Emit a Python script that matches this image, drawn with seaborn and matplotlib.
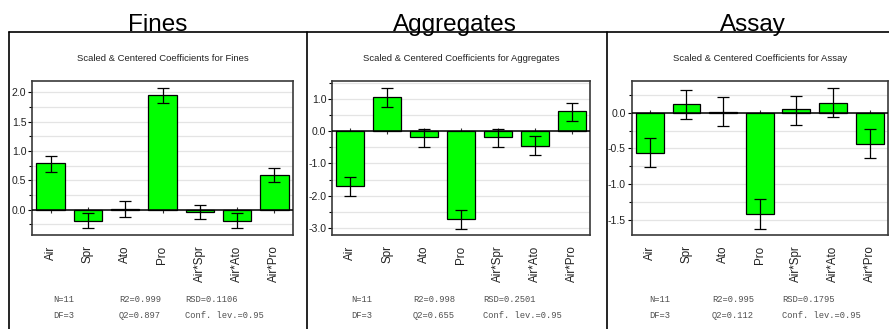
import matplotlib
matplotlib.use("Agg")
import matplotlib.pyplot as plt
import matplotlib.ticker as mticker
from matplotlib.lines import Line2D
from matplotlib import font_manager
import numpy as np
import pandas as pd
import seaborn as sns

terms = ["Air", "Spr", "Ato", "Pro", "Air*Spr", "Air*Ato", "Air*Pro"]

fines_coef = [0.79, -0.185, 0.017, 1.955, -0.04, -0.19, 0.59]
fines_lo = [0.65, -0.31, -0.12, 1.81, -0.15, -0.315, 0.466]
fines_hi = [0.92, -0.055, 0.14, 2.07, 0.085, -0.06, 0.71]

aggr_coef = [-1.70, 1.04, -0.196, -2.71, -0.196, -0.45, 0.61]
aggr_lo = [-2.01, 0.75, -0.505, -3.02, -0.505, -0.74, 0.30]
aggr_hi = [-1.43, 1.34, 0.07, -2.44, 0.07, -0.165, 0.866]

assay_coef = [-0.56, 0.12, 0.014, -1.41, 0.05, 0.135, -0.44]
assay_lo = [-0.757, -0.09, -0.18, -1.62, -0.17, -0.06, -0.635]
assay_hi = [-0.36, 0.318, 0.215, -1.21, 0.24, 0.35, -0.23]

titles = ["Fines", "Aggregates", "Assay"]
stats_n = ["N=11", "N=11", "N=11"]
stats_df = ["DF=3", "DF=3", "DF=3"]
stats_r2 = ["R2=0.999", "R2=0.998", "R2=0.995"]
stats_q2 = ["Q2=0.897", "Q2=0.655", "Q2=0.112"]
stats_rsd = ["RSD=0.1106", "RSD=0.2501", "RSD=0.1795"]
stats_conf = ["Conf. lev.=0.95", "Conf. lev.=0.95", "Conf. lev.=0.95"]

series = [
    (fines_coef, fines_lo, fines_hi),
    (aggr_coef, aggr_lo, aggr_hi),
    (assay_coef, assay_lo, assay_hi),
]
ylims = [(-0.43, 2.19), (-3.21, 1.55), (-1.71, 0.444)]
major_steps = [0.5, 1.0, 0.5]
minor_steps = [0.25, 0.5, 0.25]

sns.set_theme(style="white")
plt.rcParams["font.family"] = ["Liberation Sans", "DejaVu Sans"]

installed = {f.name for f in font_manager.fontManager.ttflist}
has_narrow = "Liberation Sans Narrow" in installed
narrow = ["Liberation Sans Narrow", "Liberation Sans", "DejaVu Sans"] if has_narrow \
    else ["Liberation Sans", "DejaVu Sans"]
sub_size = 9.0 if has_narrow else 6.8
ytick_size = 8.6 if has_narrow else 7.6

W, H = 889, 329
fig = plt.figure(figsize=(W / 100, H / 100), dpi=100)

ax_rects = [(32, 293), (332, 590), (631.5, 888)]
ax_top, ax_bot = 81, 235
panel_left = [9, 307, 607]
title_x = [158, 455, 753]
text_offsets = [(21, 87, 153), (19, 81, 151), (17.5, 80.5, 150.5)]

# panel frame lines
fig.add_artist(Line2D([9 / W, 1], [1 - 32 / H, 1 - 32 / H], color="black", lw=1.2))
for px in panel_left:
    fig.add_artist(Line2D([px / W, px / W], [0, 1 - 32 / H], color="black", lw=1.2))

for i, ((coef, lo, hi), (l, r)) in enumerate(zip(series, ax_rects)):
    ax = fig.add_axes([l / W, 1 - ax_bot / H, (r - l) / W, (ax_bot - ax_top) / H])
    df = pd.DataFrame({"term": terms, "coef": coef})
    sns.barplot(data=df, x="term", y="coef", color="#00ff00", saturation=1,
                edgecolor="black", linewidth=0.9, width=0.76, errorbar=None,
                ax=ax, zorder=3)
    coef_a = np.array(coef)
    err = [coef_a - np.array(lo), np.array(hi) - coef_a]
    ax.errorbar(np.arange(len(terms)), coef_a, yerr=err, fmt="none",
                ecolor="black", elinewidth=0.9, capsize=4.5, capthick=0.9, zorder=4)
    ax.axhline(0, color="black", lw=1.1, zorder=3.5)
    ax.plot(np.arange(len(terms)), np.zeros(len(terms)), linestyle="none",
            marker="|", markersize=5, color="#333333", mew=0.8, zorder=2)
    ax.set_xlim(-0.5, len(terms) - 0.5)
    ax.set_ylim(*ylims[i])
    ax.yaxis.set_major_locator(mticker.MultipleLocator(major_steps[i]))
    ax.yaxis.set_minor_locator(mticker.MultipleLocator(minor_steps[i]))
    ax.yaxis.set_major_formatter(mticker.FormatStrFormatter("%.1f"))
    ax.grid(True, axis="y", which="both", color="#e4e4e4", lw=0.9, zorder=0)
    ax.set_axisbelow(True)
    ax.set_xlabel("")
    ax.set_ylabel("")
    ax.tick_params(axis="y", which="major", left=True, direction="out", length=3,
                   width=0.8, color="black", pad=1, labelsize=ytick_size)
    ax.tick_params(axis="y", which="minor", left=True, direction="out", length=2,
                   width=0.8, color="black")
    ax.tick_params(axis="x", bottom=False, pad=1.5, labelsize=8.4)
    for lab in ax.get_yticklabels():
        lab.set_family(narrow)
        lab.set_color("#222222")
    for lab in ax.get_xticklabels():
        lab.set_rotation(90)
        lab.set_va("top")
        lab.set_family(["Liberation Sans", "DejaVu Sans"])
        lab.set_color("#222222")
    for s in ax.spines.values():
        s.set_color("#3a3a3a")
        s.set_linewidth(1.2)
        s.set_visible(True)

    ax.set_title(f"Scaled & Centered Coefficients for {titles[i]}",
                 family=narrow, fontsize=sub_size, pad=14.5, color="#222222")

    fig.text(title_x[i] / W, 1 - 31 / H, titles[i], ha="center", va="baseline",
             fontsize=17.5, color="black")

    ox = text_offsets[i]
    for j, (t1, t2) in enumerate([(stats_n[i], stats_df[i]),
                                  (stats_r2[i], stats_q2[i]),
                                  (stats_rsd[i], stats_conf[i])]):
        x = (l + ox[j]) / W
        fig.text(x, 1 - 300 / H, t1, ha="left", va="center",
                 family=["Liberation Mono", "DejaVu Sans Mono"], fontsize=6.3,
                 color="#505050")
        fig.text(x, 1 - 316 / H, t2, ha="left", va="center",
                 family=["Liberation Mono", "DejaVu Sans Mono"], fontsize=6.3,
                 color="#505050")

fig.savefig("out.png", dpi=100)
